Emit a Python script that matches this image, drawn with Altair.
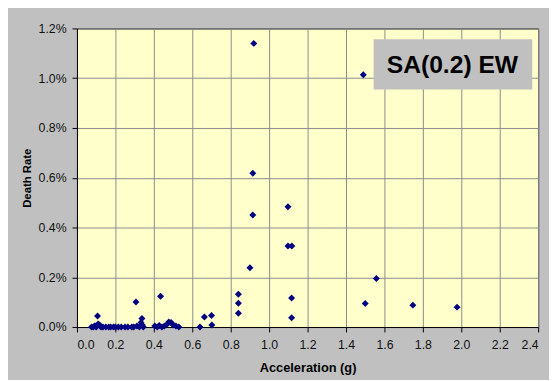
import altair as alt
import pandas as pd

# Acceleration (g) and death rate (%)
acc = [0.076, 0.085, 0.093, 0.100, 0.107, 0.110, 0.118, 0.125, 0.135, 0.150,
       0.165, 0.175, 0.190, 0.200, 0.215, 0.230, 0.250, 0.265, 0.285, 0.295,
       0.307, 0.312, 0.325, 0.333, 0.338, 0.340, 0.345,
       0.405, 0.418, 0.428, 0.435, 0.442, 0.455, 0.470, 0.478, 0.490, 0.500,
       0.515, 0.530,
       0.640, 0.663, 0.700, 0.702,
       0.840, 0.840, 0.840,
       0.900, 0.915, 0.915, 0.920,
       1.098, 1.098, 1.118, 1.117, 1.117,
       1.490, 1.500, 1.558, 1.748, 1.978]
rate_pct = [0.0, 0.0, 0.005, 0.0, 0.044, 0.012, 0.008, 0.0, 0.0, 0.0,
            0.0, 0.0, 0.0, 0.0, 0.0, 0.0, 0.0, 0.0, 0.0, 0.0,
            0.101, 0.004, 0.0, 0.018, 0.034, 0.008, 0.0,
            0.004, 0.0, 0.006, 0.124, 0.0, 0.004, 0.012, 0.020, 0.018, 0.008,
            0.004, 0.0,
            0.0, 0.040, 0.046, 0.008,
            0.132, 0.096, 0.055,
            0.238, 0.450, 0.618, 1.140,
            0.483, 0.326, 0.326, 0.117, 0.037,
            1.014, 0.095, 0.195, 0.088, 0.080]
x_ticks = [0.0, 0.2, 0.4, 0.6, 0.8, 1.0, 1.2, 1.4, 1.6, 1.8, 2.0, 2.2, 2.4]
y_ticks = [0.0, 0.002, 0.004, 0.006, 0.008, 0.010, 0.012]
label_text = ["SA(0.2) EW"]

df = pd.DataFrame({"acc": acc, "rate": [r / 100 for r in rate_pct]})

FONT = "Liberation Sans"

points = alt.Chart(df).mark_point(
    shape="diamond", filled=True, color="#000080", size=50, opacity=1
).encode(
    x=alt.X("acc:Q", title="Acceleration (g)",
            scale=alt.Scale(domain=[0, 2.4], nice=False, zero=False),
            axis=alt.Axis(values=x_ticks, format=".1f", grid=True,
                          gridColor="#8c8c8c", gridWidth=1,
                          domainColor="black", tickColor="black", tickSize=5,
                          labelFont=FONT, labelFontSize=12.5, labelColor="#111",
                          labelPadding=7, titleFont=FONT, titleFontSize=13,
                          titleFontWeight="bold", titleColor="black",
                          titlePadding=11)),
    y=alt.Y("rate:Q", title="Death Rate",
            scale=alt.Scale(domain=[0, 0.012], nice=False),
            axis=alt.Axis(values=y_ticks, format=".1%", grid=True,
                          gridColor="#8c8c8c", gridWidth=1,
                          domainColor="black", tickColor="black", tickSize=5,
                          labelFont=FONT, labelFontSize=12.5, labelColor="#111",
                          labelPadding=6, titleFont=FONT, titleFontSize=11.5,
                          titleFontWeight="bold", titleColor="black",
                          titlePadding=6)),
)

box = alt.Chart(pd.DataFrame({"t": label_text})).mark_rect(
    color="#C0C0C0"
).encode(
    x=alt.value(301), x2=alt.value(462), y=alt.value(11), y2=alt.value(62)
)

text = alt.Chart(pd.DataFrame({"t": label_text})).mark_text(
    font=FONT, fontSize=25, fontWeight="bold", color="black",
    align="center", baseline="middle"
).encode(
    text="t:N", x=alt.value(381), y=alt.value(37)
)

chart = alt.layer(points, box, text).properties(
    width=468, height=303,
    autosize=alt.AutoSizeParams(type="none"),
    padding={"left": 70, "top": 18, "right": 11, "bottom": 51},
    background="#C0C0C0",
).configure_view(
    fill="#FFFFCC", stroke="black", strokeWidth=1
)

chart.save("out.html", embed_options={"renderer": "svg", "actions": False})
